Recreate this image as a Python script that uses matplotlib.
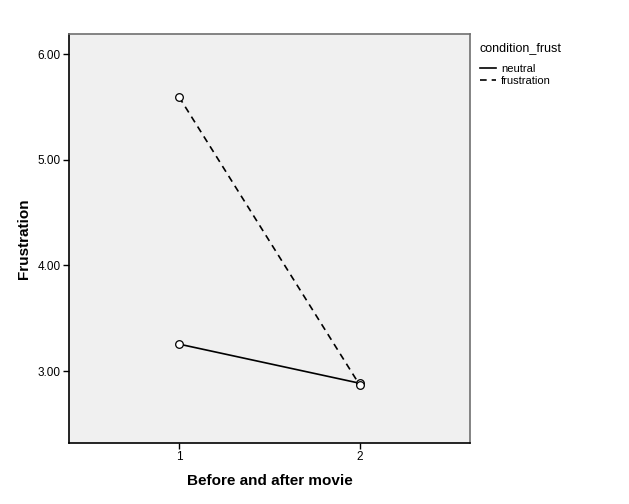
import numpy as np
import matplotlib.pyplot as plt

plt.rcParams['font.family'] = ['Liberation Sans', 'DejaVu Sans']

time_points = [1, 2]
neutral = [3.256, 2.885]
frustration = [5.595, 2.865]
series_labels = ['neutral', 'frustration']
y_ticks = [3.0, 4.0, 5.0, 6.0]

fig = plt.figure(figsize=(6.29, 5.04), dpi=100)
ax = fig.add_axes([0.1097, 0.121, 0.6375, 0.8115])
ax.set_facecolor('#f0f0f0')

ax.plot(time_points, neutral, color='black', lw=1.2, linestyle='-',
        marker='o', markersize=5.5, markerfacecolor='white', markeredgecolor='black',
        markeredgewidth=0.9, label=series_labels[0])
ax.plot(time_points, frustration, color='black', lw=1.2, linestyle=(0, (4, 3)),
        marker='o', markersize=5.5, markerfacecolor='white', markeredgecolor='black',
        markeredgewidth=0.9, label=series_labels[1])

ax.set_xlim(0.392, 2.608)
ax.set_ylim(2.32, 6.19)
ax.set_xticks(time_points)
ax.set_xticklabels([str(t) for t in time_points])
ax.set_yticks(y_ticks)
ax.set_yticklabels(['%.2f' % v for v in y_ticks])
ax.tick_params(axis='both', labelsize=8.5, length=4, width=1, color='black', pad=2)

for side in ['left', 'bottom']:
    ax.spines[side].set_color('black')
    ax.spines[side].set_linewidth(1.2)
for side in ['top', 'right']:
    ax.spines[side].set_color('#707070')
    ax.spines[side].set_linewidth(1.2)

ax.set_xlabel('Before and after movie', fontsize=11, fontweight='bold', labelpad=8)
ax.set_ylabel('Frustration', fontsize=11, fontweight='bold', labelpad=5)

leg = ax.legend(title='condition_frust', loc='upper left', bbox_to_anchor=(1.005, 1.0),
                frameon=False, fontsize=8, title_fontsize=9, handlelength=1.5,
                handletextpad=0.4, labelspacing=0.2, borderaxespad=0.3)
leg._legend_box.align = 'left'
leg._legend_box.sep = 7
for h in leg.legend_handles:
    h.set_marker('')

fig.savefig('out.png', dpi=100)
